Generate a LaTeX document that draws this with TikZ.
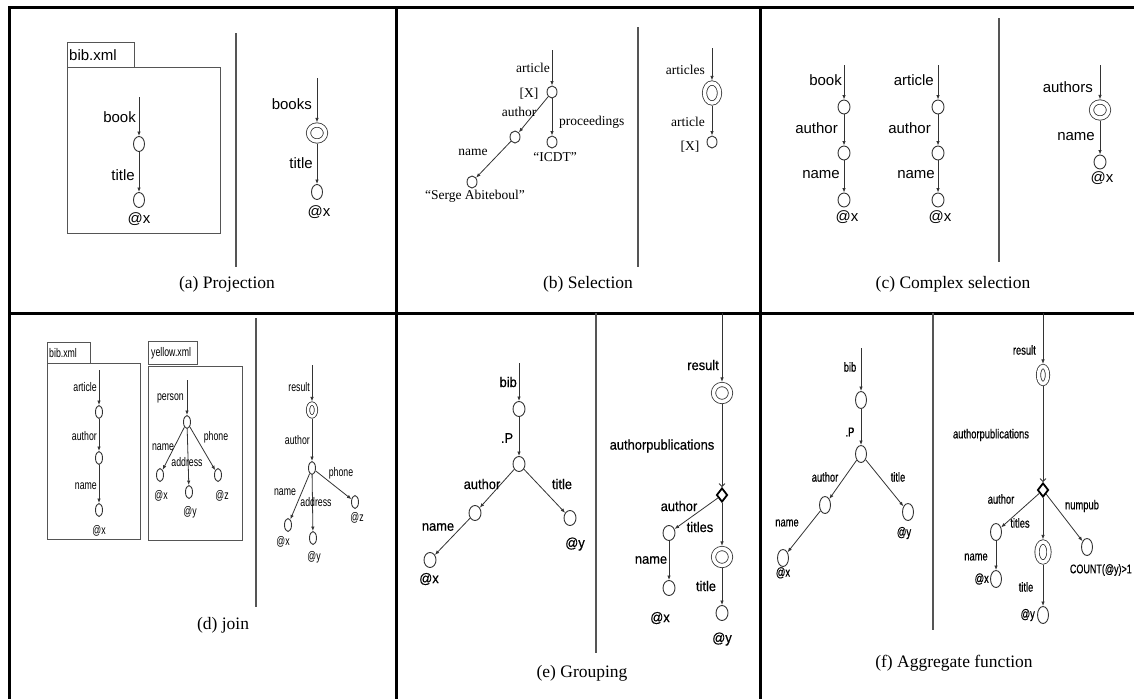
\documentclass[tikz,border=0pt]{standalone}
\usepackage{fontspec}
\setmainfont{Liberation Serif}
\setsansfont{Liberation Sans}
\newfontfamily\plainsans{Liberation Sans}
\newfontfamily\narrowsans[FakeStretch=0.7]{Liberation Sans}
\newfontfamily\widesemibold[FakeStretch=0.92,FakeBold=0.5]{Liberation Sans}
\newfontfamily\narrowsemibold[FakeStretch=0.72,FakeBold=0.5]{Liberation Sans}
\usetikzlibrary{shapes.geometric,arrows.meta}
\newcommand\setsz[1]{\fontsize{#1}{#1}\selectfont}
\definecolor{ink}{HTML}{333333}
\definecolor{rulegray}{HTML}{555555}
\begin{document}
\begin{tikzpicture}[x=1pt,y=-1pt,
  frame/.style={line width=3pt,black},
  divider/.style={line width=1.2pt,draw=rulegray},
  filebox/.style={draw=rulegray,line width=1pt},
  edge/.style={draw=ink,line width=0.8pt,-{Latex[length=4.5pt,width=3.5pt]}},
  openedge/.style={draw=ink,line width=0.8pt,-{Straight Barb[length=3pt,width=6pt]}},
  leaf/.style={draw=ink,ellipse,line width=0.9pt,inner sep=0pt,minimum width=11pt,minimum height=15pt},
  coll/.style={draw=ink,ellipse,line width=0.8pt,double,double distance=3.5pt,inner sep=0pt,outer sep=2.6pt},
  grp/.style={draw=black,diamond,line width=1.8pt,inner sep=0pt,minimum width=11pt,minimum height=14pt},
  caption/.style={inner sep=0pt,font=\setsz{17.5}},
  la/.style={inner sep=0pt,font=\plainsans\setsz{15}},
  lb/.style={inner sep=0pt,font=\setsz{13.5}},
  ld/.style={inner sep=0pt,font=\narrowsans\setsz{12.5}},
  le/.style={inner sep=0pt,font=\widesemibold\setsz{14}},
  lf/.style={inner sep=0pt,font=\narrowsemibold\setsz{13}},
]
\useasboundingbox (0,0) rectangle (1134,699);

% panel frame
\draw[frame] (9,699) -- (9,7) -- (1134,7);
\draw[frame] (9,313) -- (1134,313);
\draw[frame] (396,7) -- (396,699);
\draw[frame] (760,7) -- (760,699);

% ---------------- (a) Projection ----------------
\draw[filebox] (67,42) rectangle (134,67);
\node[la,anchor=west] (aTab) at (69,55) {bib.xml};
\draw[filebox] (67,67) rectangle (220,233);
\coordinate (aIn) at (139,97);
\node[leaf] (aBook) at (139,144) {};
\node[leaf] (aTitle) at (139,200) {};
\draw[edge] (aIn) -- (aBook);
\draw[edge] (aBook) -- (aTitle);
\node[la,anchor=east] (aL1) at (136,117) {book};
\node[la,anchor=east] (aL2) at (135,175) {title};
\node[la] (aL3) at (139,219) {@x};
\draw[divider] (236,33) -- (236,267);
\coordinate (aIn2) at (317,78);
\node[coll,minimum width=17pt,minimum height=16pt] (aBooks) at (317,133) {};
\node[leaf] (aTitle2) at (317,192) {};
\draw[edge] (aIn2) -- (aBooks);
\draw[edge] (aBooks) -- (aTitle2);
\node[la,anchor=east] (aL4) at (312,104) {books};
\node[la,anchor=east] (aL5) at (313,163) {title};
\node[la] (aL6) at (319,212) {@x};
\node[caption] (aCap) at (227,284) {(a) Projection};

% ---------------- (b) Selection ----------------
\coordinate (bIn) at (552,50);
\node[leaf,minimum width=10pt,minimum height=12pt] (bArt) at (552,92) {};
\node[leaf,minimum width=10pt,minimum height=12pt] (bProc) at (552,142) {};
\node[leaf,minimum width=10pt,minimum height=12pt] (bAuth) at (515,137) {};
\node[leaf,minimum width=10pt,minimum height=12pt] (bName) at (472,182) {};
\draw[edge] (bIn) -- (bArt);
\draw[edge] (bArt) -- (bProc);
\draw[edge] (bArt) -- (bAuth);
\draw[edge] (bAuth) -- (bName);
\node[lb,anchor=east] (bL1) at (550,68) {article};
\node[lb] (bL2) at (529,94) {[X]};
\node[lb] (bL3) at (519,112) {author};
\node[lb,anchor=west] (bL4) at (559,122) {proceedings};
\node[lb] (bL5) at (555,157) {“ICDT”};
\node[lb] (bL6) at (473,152) {name};
\node[lb] (bL7) at (475,196) {“Serge Abiteboul”};
\draw[divider] (638,27) -- (638,267);
\coordinate (bIn2) at (712,48);
\node[coll,minimum width=15pt,minimum height=20pt] (bArts) at (712,93) {};
\node[leaf,minimum width=10pt,minimum height=12pt] (bArt2) at (712,142) {};
\draw[edge] (bIn2) -- (bArts);
\draw[edge] (bArts) -- (bArt2);
\node[lb,anchor=east] (bL8) at (705,70) {articles};
\node[lb,anchor=east] (bL9) at (705,122) {article};
\node[lb] (bL10) at (690,147) {[X]};
\node[caption] (bCap) at (588,284) {(b) Selection};

% ---------------- (c) Complex selection ----------------
\coordinate (cIn) at (844,65);
\node[leaf,minimum width=12pt,minimum height=14pt] (cBook) at (844,107) {};
\node[leaf,minimum width=12pt,minimum height=14pt] (cAuth) at (844,153) {};
\node[leaf,minimum width=12pt,minimum height=14pt] (cName) at (844,200) {};
\draw[edge] (cIn) -- (cBook);
\draw[edge] (cBook) -- (cAuth);
\draw[edge] (cAuth) -- (cName);
\node[la,anchor=east] (cL1) at (842,80) {book};
\node[la,anchor=east] (cL2) at (838,128) {author};
\node[la,anchor=east] (cL3) at (840,175) {name};
\node[la] (cL4) at (847,217) {@x};
\coordinate (cIn2) at (938,65);
\node[leaf,minimum width=12pt,minimum height=14pt] (cArt) at (938,107) {};
\node[leaf,minimum width=12pt,minimum height=14pt] (cAuth2) at (938,153) {};
\node[leaf,minimum width=12pt,minimum height=14pt] (cName2) at (938,200) {};
\draw[edge] (cIn2) -- (cArt);
\draw[edge] (cArt) -- (cAuth2);
\draw[edge] (cAuth2) -- (cName2);
\node[la,anchor=east] (cL5) at (934,80) {article};
\node[la,anchor=east] (cL6) at (931,128) {author};
\node[la,anchor=east] (cL7) at (935,175) {name};
\node[la] (cL8) at (940,217) {@x};
\draw[divider] (999,18) -- (999,262);
\coordinate (cIn3) at (1100,65);
\node[coll,minimum width=17pt,minimum height=16pt] (cAuths) at (1100,110) {};
\node[leaf,minimum width=12pt,minimum height=14pt] (cName3) at (1100,162) {};
\draw[edge] (cIn3) -- (cAuths);
\draw[edge] (cAuths) -- (cName3);
\node[la,anchor=east] (cL9) at (1093,87) {authors};
\node[la,anchor=east] (cL10) at (1095,137) {name};
\node[la] (cL11) at (1102,178) {@x};
\node[caption] (cCap) at (953,284) {(c) Complex selection};

% ---------------- (d) join ----------------
\draw[filebox] (47,342) rectangle (90,363);
\node[ld,anchor=west] (dTab1) at (49,353) {bib.xml};
\draw[filebox] (47,363) rectangle (140,539);
\draw[filebox] (148,341) rectangle (197,364);
\node[ld,anchor=west] (dTab2) at (151,353) {yellow.xml};
\draw[filebox] (148,366) rectangle (242,540);
% bib.xml tree
\coordinate (dIn) at (99,370);
\node[leaf,minimum width=7pt,minimum height=13pt] (dArt) at (99,412) {};
\node[leaf,minimum width=7pt,minimum height=13pt] (dAuth) at (99,458) {};
\node[leaf,minimum width=7pt,minimum height=13pt] (dName) at (99,510) {};
\draw[edge] (dIn) -- (dArt);
\draw[edge] (dArt) -- (dAuth);
\draw[edge] (dAuth) -- (dName);
\node[ld,anchor=east] (dL1) at (97,387) {article};
\node[ld,anchor=east] (dL2) at (97,436) {author};
\node[ld,anchor=east] (dL3) at (97,486) {name};
\node[ld] (dL4) at (99,531) {@x};
% yellow.xml tree
\coordinate (dIn2) at (187,380);
\node[leaf,minimum width=7pt,minimum height=13pt] (dPers) at (187,422) {};
\node[leaf,minimum width=7pt,minimum height=13pt] (dN) at (160,475) {};
\node[leaf,minimum width=7pt,minimum height=13pt] (dA) at (189,492) {};
\node[leaf,minimum width=7pt,minimum height=13pt] (dP) at (218,475) {};
\draw[edge] (dIn2) -- (dPers);
\draw[edge] (dPers) -- (dN);
\draw[edge] (dPers) -- (dA);
\draw[edge] (dPers) -- (dP);
\node[ld,anchor=east] (dL5) at (184,398) {person};
\node[ld] (dL6) at (163,447) {name};
\node[ld] (dL7) at (187,462) {address};
\node[ld] (dL8) at (216,437) {phone};
\node[ld] (dL9) at (161,496) {@x};
\node[ld] (dL10) at (190,512) {@y};
\node[ld] (dL11) at (222,496) {@z};
\draw[divider] (256,318) -- (256,607);
% result tree
\coordinate (dIn3) at (312,365);
\node[coll,minimum width=8pt,minimum height=13pt,double distance=2.5pt,outer sep=2.1pt] (dRes) at (312,410) {};
\node[leaf,minimum width=7pt,minimum height=13pt] (dAu) at (312,468) {};
\node[leaf,minimum width=7pt,minimum height=13pt] (dN2) at (288,525) {};
\node[leaf,minimum width=7pt,minimum height=13pt] (dA2) at (313,538) {};
\node[leaf,minimum width=7pt,minimum height=13pt] (dP2) at (355,502) {};
\draw[edge] (dIn3) -- (dRes);
\draw[edge] (dRes) -- (dAu);
\draw[edge] (dAu) -- (dN2);
\draw[edge] (dAu) -- (dA2);
\draw[edge] (dAu) -- (dP2);
\node[ld,anchor=east] (dL12) at (310,387) {result};
\node[ld,anchor=east] (dL13) at (310,440) {author};
\node[ld] (dL14) at (285,492) {name};
\node[ld] (dL15) at (316,502) {address};
\node[ld] (dL16) at (341,473) {phone};
\node[ld] (dL17) at (283,542) {@x};
\node[ld] (dL18) at (314,557) {@y};
\node[ld] (dL19) at (357,518) {@z};
\node[caption] (dCap) at (223,625) {(d) join};

% ---------------- (e) Grouping ----------------
\coordinate (eIn) at (519,363);
\node[leaf,minimum width=12pt,minimum height=15pt] (eBib) at (519,409) {};
\node[leaf,minimum width=12pt,minimum height=15pt] (eP) at (519,464) {};
\node[leaf,minimum width=12pt,minimum height=15pt] (eAu) at (475,513) {};
\node[leaf,minimum width=12pt,minimum height=15pt] (eTi) at (570,518) {};
\node[leaf,minimum width=12pt,minimum height=15pt] (eNa) at (430,560) {};
\draw[edge] (eIn) -- (eBib);
\draw[edge] (eBib) -- (eP);
\draw[edge] (eP) -- (eAu);
\draw[edge] (eP) -- (eTi);
\draw[edge] (eAu) -- (eNa);
\node[le,anchor=east] (eL1) at (517,382) {bib};
\node[le] (eL2) at (507,438) {.P};
\node[le] (eL3) at (482,484) {author};
\node[le] (eL4) at (562,484) {title};
\node[le] (eL5) at (438,527) {name};
\node[le] (eL6) at (429,579) {@x};
\node[le] (eL7) at (575,544) {@y};
\draw[divider] (596,313) -- (596,653);
% grouped result
\coordinate (eIn2) at (722,313);
\node[coll,minimum width=17pt,minimum height=17pt] (eRes) at (722,393) {};
\node[grp] (eGrp) at (722,495) {};
\node[leaf,minimum width=12pt,minimum height=15pt] (eAu2) at (669,533) {};
\node[coll,minimum width=17pt,minimum height=17pt] (eTis) at (722,557) {};
\node[leaf,minimum width=12pt,minimum height=15pt] (eNa2) at (669,588) {};
\node[leaf,minimum width=12pt,minimum height=15pt] (eTi2) at (722,613) {};
\draw[edge] (eIn2) -- (eRes);
\draw[openedge] (eRes) -- (eGrp);
\draw[edge] (eGrp) -- (eAu2);
\draw[edge] (eGrp) -- (eTis);
\draw[edge] (eAu2) -- (eNa2);
\draw[edge] (eTis) -- (eTi2);
\node[le,anchor=east] (eL8) at (719,365) {result};
\node[le] (eL9) at (662,446) {authorpublications};
\node[le] (eL10) at (679,506) {author};
\node[le] (eL11) at (700,527) {titles};
\node[le] (eL12) at (651,560) {name};
\node[le] (eL13) at (706,586) {title};
\node[le] (eL14) at (660,618) {@x};
\node[le] (eL15) at (722,639) {@y};
\node[caption] (eCap) at (582,673) {(e) Grouping};

% ---------------- (f) Aggregate function ----------------
\coordinate (fIn) at (861,348);
\node[leaf,minimum width=11pt,minimum height=17pt] (fBib) at (861,400) {};
\node[leaf,minimum width=11pt,minimum height=17pt] (fP) at (861,454) {};
\node[leaf,minimum width=11pt,minimum height=17pt] (fAu) at (825,505) {};
\node[leaf,minimum width=11pt,minimum height=17pt] (fTi) at (908,512) {};
\node[leaf,minimum width=11pt,minimum height=17pt] (fNa) at (783,558) {};
\draw[edge] (fIn) -- (fBib);
\draw[edge] (fBib) -- (fP);
\draw[edge] (fP) -- (fAu);
\draw[edge] (fP) -- (fTi);
\draw[edge] (fAu) -- (fNa);
\node[lf] (fL1) at (850,367) {bib};
\node[lf] (fL2) at (850,432) {.P};
\node[lf] (fL3) at (825,477) {author};
\node[lf] (fL4) at (898,477) {title};
\node[lf] (fL5) at (787,523) {name};
\node[lf,anchor=north] (fL6) at (783,567) {@x};
\node[lf] (fL7) at (904,533) {@y};
\draw[divider] (933,313) -- (933,630);
% aggregated result
\coordinate (fIn2) at (1043,313);
\node[coll,minimum width=9pt,minimum height=17pt] (fRes) at (1043,375) {};
\node[grp] (fGrp) at (1043,490) {};
\node[leaf,minimum width=11pt,minimum height=17pt] (fAu2) at (996,532) {};
\node[coll,minimum width=12pt,minimum height=20pt] (fTis) at (1043,552) {};
\node[leaf,minimum width=11pt,minimum height=17pt] (fNum) at (1087,547) {};
\node[leaf,minimum width=11pt,minimum height=17pt] (fNa2) at (996,579) {};
\node[leaf,minimum width=11pt,minimum height=17pt] (fTi2) at (1043,615) {};
\draw[edge] (fIn2) -- (fRes);
\draw[openedge] (fRes) -- (fGrp);
\draw[edge] (fGrp) -- (fAu2);
\draw[edge] (fGrp) -- (fTis);
\draw[edge] (fGrp) -- (fNum);
\draw[edge] (fAu2) -- (fNa2);
\draw[edge] (fTis) -- (fTi2);
\node[lf,anchor=east] (fL8) at (1036,350) {result};
\node[lf] (fL9) at (991,435) {authorpublications};
\node[lf] (fL10) at (1001,499) {author};
\node[lf] (fL11) at (1020,523) {titles};
\node[lf] (fL12) at (1082,506) {numpub};
\node[lf,anchor=east,font=\narrowsemibold\setsz{12.5}] (fL13) at (1132,570) {COUNT(@y)>1};
\node[lf] (fL14) at (976,557) {name};
\node[lf,anchor=east] (fL15) at (989,579) {@x};
\node[lf] (fL16) at (1026,587) {title};
\node[lf,anchor=east] (fL17) at (1035,615) {@y};
\node[caption] (fCap) at (954,663) {(f) Aggregate function};
\end{tikzpicture}
\end{document}
